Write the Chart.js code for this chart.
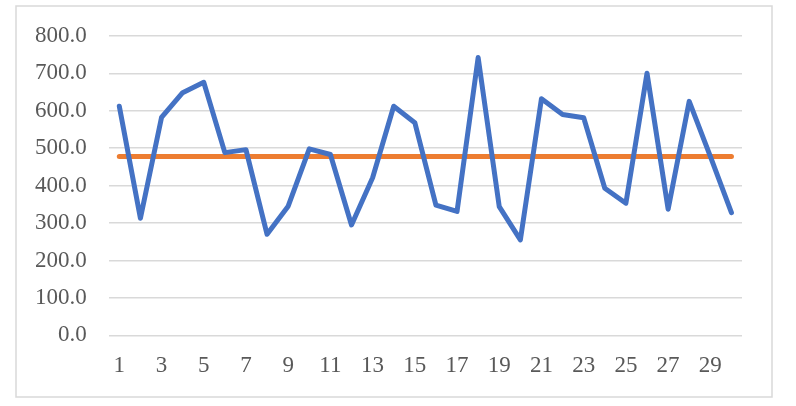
<!DOCTYPE html>
<html>
<head>
<meta charset="utf-8">
<script src="https://cdn.jsdelivr.net/npm/chart.js@4/dist/chart.umd.min.js"></script>
<style>
  html, body { margin: 0; padding: 0; background: #ffffff; }
  #wrap { width: 796px; height: 406px; }
</style>
</head>
<body>
<div id="wrap"><canvas id="lineChart" width="796" height="406"></canvas></div>
<script>
const labels = ['1', '2', '3', '4', '5', '6', '7', '8', '9', '10', '11', '12', '13', '14', '15',
  '16', '17', '18', '19', '20', '21', '22', '23', '24', '25', '26', '27', '28', '29', '30'];
const values = [612, 313, 582, 648, 676, 488, 496, 270, 345, 498, 483, 295, 421, 612, 568,
  348, 331, 742, 344, 255, 632, 590, 581, 393, 353, 700, 337, 625, 478, 328];
const average = [478, 478, 478, 478, 478, 478, 478, 478, 478, 478, 478, 478, 478, 478, 478,
  478, 478, 478, 478, 478, 478, 478, 478, 478, 478, 478, 478, 478, 478, 478];
const yTicks = [0, 100, 200, 300, 400, 500, 600, 700, 800];

const tickFont = { family: '"Liberation Serif", "Times New Roman", serif', size: 23 };

// light grey frame round the whole chart
const frame = {
  id: 'frame',
  beforeDraw(chart) {
    const c = chart.ctx;
    c.save();
    c.fillStyle = '#ffffff';
    c.fillRect(0, 0, chart.width, chart.height);
    c.strokeStyle = '#d9d9d9';
    c.lineWidth = 1.5;
    c.strokeRect(16, 6, 756, 391);
    c.restore();
  }
};

const ctx = document.getElementById('lineChart').getContext('2d');
new Chart(ctx, {
  type: 'line',
  data: {
    labels: labels,
    datasets: [{
      data: average,
      borderColor: '#ED7D31',
      borderWidth: 5,
      borderCapStyle: 'round',
      pointRadius: 0,
      order: 1
    }, {
      data: values,
      borderColor: '#4472C4',
      borderWidth: 5,
      borderJoinStyle: 'round',
      borderCapStyle: 'round',
      pointRadius: 0,
      tension: 0,
      order: 0
    }]
  },
  options: {
    responsive: false,
    animation: false,
    layout: { padding: { left: 13, right: 54, top: 35, bottom: 10 } },
    plugins: {
      legend: { display: false },
      tooltip: { enabled: false }
    },
    scales: {
      x: {
        offset: true,
        grid: { display: false, drawTicks: false },
        border: { display: false },
        ticks: {
          autoSkip: false,
          maxRotation: 0,
          padding: 16.5,
          color: '#595959',
          font: tickFont,
          callback: (v, i) => (i % 2 === 0 ? labels[i] : '')
        }
      },
      y: {
        min: 0,
        max: 800,
        afterBuildTicks: axis => { axis.ticks = yTicks.map(v => ({ value: v })); },
        grid: { color: '#d9d9d9', lineWidth: 1.5, drawTicks: false },
        border: { display: false },
        ticks: {
          padding: 22,
          color: '#595959',
          font: tickFont,
          callback: v => Number(v).toFixed(1)
        }
      }
    }
  },
  plugins: [frame]
});
</script>
</body>
</html>
